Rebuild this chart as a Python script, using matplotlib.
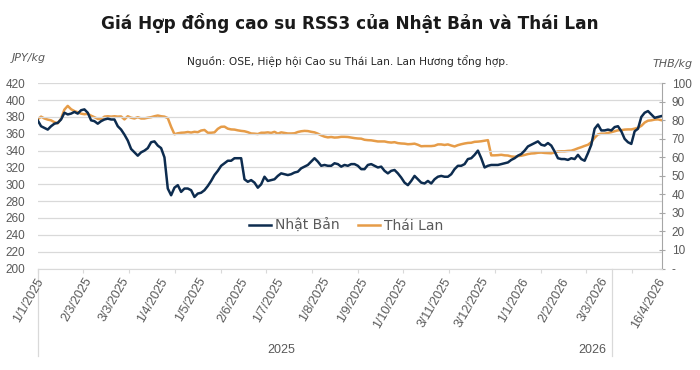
import matplotlib
matplotlib.use("Agg")
import numpy as np
import matplotlib.pyplot as plt

plt.rcParams['font.family'] = ['DejaVu Sans']

# Japan (OSE), JPY/kg - at even steps
japan = [376, 369, 367, 365, 369, 372, 373, 377, 385, 383,
         384, 386, 384, 388, 389, 385, 376, 375, 372, 375,
         377, 378, 377, 377, 369, 365, 359, 352, 342, 338,
         334, 338, 340, 343, 350, 351, 346, 343, 332, 295,
         287, 296, 299, 291, 295, 295, 293, 285, 289, 290,
         293, 298, 304, 311, 316, 322, 325, 328, 328, 331,
         331, 331, 306, 303, 305, 302, 296, 300, 309, 304,
         305, 306, 310, 313, 312, 311, 312, 314, 315, 319,
         321, 323, 327, 331, 327, 322, 323, 322, 322, 325,
         324, 321, 323, 322, 324, 324, 322, 318, 318, 323,
         324, 322, 320, 321, 316, 313, 316, 317, 313, 308,
         302, 299, 304, 310, 306, 302, 301, 304, 301, 306,
         309, 310, 309, 309, 312, 318, 322, 322, 324, 330,
         331, 335, 340, 331, 320, 322, 323, 323, 323, 324,
         325, 326, 329, 331, 334, 336, 340, 345, 347, 349,
         351, 347, 346, 349, 346, 339, 331, 330, 330, 329,
         331, 330, 335, 330, 328, 337, 347, 366, 371, 364,
         364, 365, 364, 368, 369, 363, 354, 350, 348, 363,
         366, 380, 385, 387, 383, 379, 380, 381]

# Thailand, THB/kg
thai = [80.5, 82, 81, 80.4, 80, 79, 78.4, 81, 85.8, 87.8,
        86, 85, 84.4, 83.6, 83.3, 83.5, 82.5, 81.7, 80.8, 80.6,
        82, 82.2, 82, 82.2, 82, 82.1, 80.5, 82.2, 81.4, 81,
        81.7, 81, 81, 81.4, 81.7, 82.2, 82.6, 82.2, 82, 81.2,
        76.5, 72.5, 73, 73.3, 73.4, 73.7, 73.4, 73.8, 73.6, 74.5,
        74.8, 73.3, 73.3, 73.5, 75.4, 76.5, 76.6, 75.5, 75.1, 75,
        74.6, 74.3, 74.1, 73.6, 72.9, 72.8, 72.6, 73.3, 73.3, 73.5,
        73.2, 73.8, 72.8, 73.5, 73.2, 72.9, 72.9, 73, 73.7, 74.1,
        74.3, 74.2, 73.8, 73.5, 72.8, 71.9, 71.2, 70.8, 71, 70.7,
        70.8, 71.1, 71.1, 71, 70.7, 70.4, 70.2, 70.1, 69.5, 69.3,
        69.2, 68.9, 68.6, 68.6, 68.6, 68.2, 68, 68.2, 67.7, 67.5,
        67.4, 67.1, 67.2, 67.4, 66.8, 66, 66.1, 66.1, 66.1, 66.3,
        67, 67, 66.7, 67, 66.4, 65.9, 66.6, 67.1, 67.5, 67.8,
        67.9, 68.4, 68.5, 68.7, 69, 69.3, 61.1, 61.1, 61.2, 61.4,
        61.1, 61, 60.5, 60.3, 60.7, 60.9, 61.3, 61.8, 62.1, 62.2,
        62.5, 62.6, 62.4, 62.3, 62.2, 62.6, 63.2, 63.3, 63.3, 63.5,
        63.6, 64.2, 64.9, 65.5, 66.2, 66.8, 68.2, 70.6, 72.4, 72.8,
        72.8, 73.2, 73.6, 74.1, 74.6, 74.7, 75, 75.1, 75.1, 75.5,
        76, 77, 78.8, 79.8, 80, 80.4, 80.5, 80.1]

date_labels = ['1/1/2025', '2/3/2025', '3/3/2025', '1/4/2025', '1/5/2025',
               '2/6/2025', '1/7/2025', '1/8/2025', '1/9/2025', '1/10/2025',
               '3/11/2025', '3/12/2025', '1/1/2026', '2/2/2026', '3/3/2026',
               '16/4/2026']
label_pos = [0.9, 15.4, 26.7, 38.1, 49.6, 62.2, 72.9, 86.8, 98.2, 109.9,
             123.1, 134.4, 146.5, 158.5, 170.2, 187.3]
years = ['2025', '2026']
year_pos = [73.0, 166.2]
year_split = 172.2

left_ticks = list(range(200, 421, 20))
right_ticks = list(range(0, 101, 10))
right_labels = ['-'] + [str(v) for v in right_ticks[1:]]

navy = '#0d2c4f'
orange = '#e69c48'
grey_txt = '#595959'
grid_c = '#d9d9d9'

x = np.arange(len(japan))

fig = plt.figure(figsize=(7, 3.7), dpi=100)
ax = fig.add_axes([0.0539, 0.2743, 0.8918, 0.5006])
ax2 = ax.twinx()

ax.plot(x, japan, color=navy, lw=1.8, label='Nhật Bản', zorder=3)
ax2.plot(x, thai, color=orange, lw=1.8, label='Thái Lan', zorder=2)
ax.set_zorder(ax2.get_zorder() + 1)
ax.patch.set_visible(False)

ax.set_xlim(0, 187.2)
ax.set_ylim(200, 420)
ax2.set_ylim(0, 100)

ax.set_yticks(left_ticks)
ax.yaxis.grid(True, color=grid_c, lw=0.9)
ax.set_axisbelow(True)
ax.tick_params(axis='y', length=0, pad=9, labelsize=8.5, labelcolor=grey_txt)
for lab in ax.get_yticklabels():
    lab.set_family(['Liberation Sans', 'DejaVu Sans'])

ax2.set_yticks(right_ticks)
ax2.set_yticklabels(right_labels, family=['Liberation Sans', 'DejaVu Sans'])
ax2.tick_params(axis='y', direction='inout', length=4, color='#a6a6a6',
                pad=5, labelsize=8.5, labelcolor=grey_txt)

ax.set_xticks(np.arange(0, 188, 13.71))
ax.tick_params(axis='x', length=3, color=grid_c, labelbottom=False)

for s in ['top', 'left', 'right']:
    ax.spines[s].set_visible(False)
for s in ['top', 'left', 'bottom']:
    ax2.spines[s].set_visible(False)
ax.spines['bottom'].set_color(grid_c)
ax2.spines['right'].set_color('#a6a6a6')

tr = ax.get_xaxis_transform()
for pos, lab in zip(label_pos, date_labels):
    ax.text(pos, -0.055, lab, transform=tr, rotation=60, rotation_mode='anchor',
            ha='right', va='center', fontsize=9, color=grey_txt,
            family=['Liberation Sans', 'DejaVu Sans'])
for pos, yr in zip(year_pos, years):
    ax.text(pos, -0.44, yr, transform=tr, ha='center', va='center',
            fontsize=9, color=grey_txt, family=['Liberation Sans', 'DejaVu Sans'])
for xv in [0, year_split]:
    ax.plot([xv, xv], [0, -0.475], transform=tr, color=grid_c, lw=0.9,
            clip_on=False)

h1, l1 = ax.get_legend_handles_labels()
h2, l2 = ax2.get_legend_handles_labels()
ax.legend(h1 + h2, l1 + l2, loc='center', bbox_to_anchor=(0.494, 0.231),
          ncol=2, frameon=False, fontsize=10, handlelength=1.6,
          handletextpad=0.3, columnspacing=1.3, labelcolor=grey_txt)

fig.text(0.5, 0.938, 'Giá Hợp đồng cao su RSS3 của Nhật Bản và Thái Lan',
         ha='center', va='center', fontsize=12.2, fontweight='bold', color='#1a1a1a')
fig.text(0.497, 0.835, 'Nguồn: OSE, Hiệp hội Cao su Thái Lan. Lan Hương tổng hợp.',
         ha='center', va='center', fontsize=7.7, color='#262626')
fig.text(0.017, 0.843, 'JPY/kg', ha='left', va='center', fontsize=8,
         style='italic', color=grey_txt)
fig.text(0.99, 0.827, 'THB/kg', ha='right', va='center', fontsize=8,
         style='italic', color=grey_txt)

fig.savefig('out.png', dpi=100, facecolor='white')
